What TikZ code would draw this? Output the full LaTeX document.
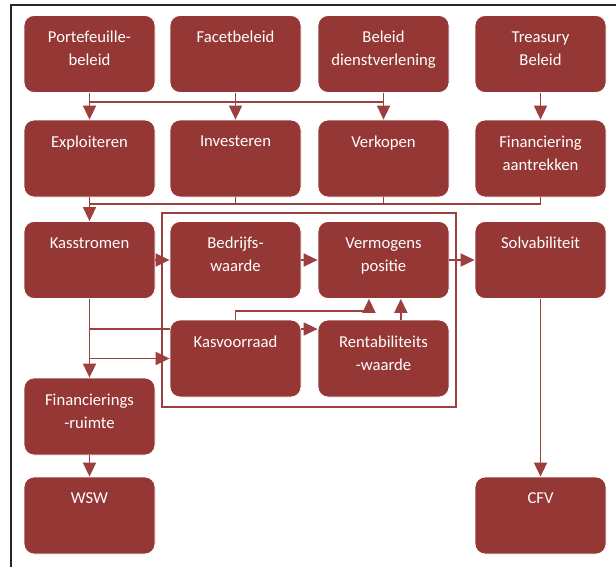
\documentclass[tikz,border=0pt]{standalone}
\usepackage{fontspec}
\setmainfont{Carlito}
\usetikzlibrary{arrows.meta,calc}
\definecolor{boxred}{HTML}{953735}
\definecolor{linered}{HTML}{9B403E}
\begin{document}
\begin{tikzpicture}[x=0.75pt,y=-0.75pt,
 box/.style={draw=white, line width=0.6pt, fill=boxred, rounded corners=7.5pt, minimum width=98.25pt, minimum height=57.75pt, inner sep=0pt},
 lbl/.style={anchor=north, inner sep=0pt, text=white, font=\fontsize{12.5}{17.25}\selectfont, align=center},
 conn/.style={draw=linered, line width=1.3pt},
 arr/.style={conn, -{Triangle[length=10.5pt,width=9.75pt]}},
]
\useasboundingbox (0,0) rectangle (616,567);
\fill[white] (0,0) rectangle (616,567);
\draw[black!85, line width=1.5pt] (11,567) -- (11,5) -- (616,5);
% inner frame
\draw[conn] (162,213) rectangle (456,407);
% boxes
\node[box] (pf) at (89.5,54) {};
\node[box] (fb) at (235.5,54) {};
\node[box] (bd) at (383.5,54) {};
\node[box] (tb) at (540.5,54) {};
\node[box] (ex) at (89.5,158.5) {};
\node[box] (inv) at (235.5,158.5) {};
\node[box] (vk) at (383.5,158.5) {};
\node[box] (fa) at (540.5,158.5) {};
\node[box] (ks) at (89.5,260) {};
\node[box] (bw) at (235.5,260) {};
\node[box] (vp) at (383.5,260) {};
\node[box] (sv) at (540.5,260) {};
\node[box] (kv) at (235.5,358.5) {};
\node[box] (rw) at (383.5,358.5) {};
\node[box] (fr) at (89.5,416.5) {};
\node[box] (wsw) at (89.5,515.5) {};
\node[box] (cfv) at (540.5,515.5) {};
% labels
\node[lbl] at ([yshift=-12pt]pf.north) {Portefeuille-\\beleid};
\node[lbl] at ([yshift=-12pt]fb.north) {Facetbeleid};
\node[lbl] at ([yshift=-12pt]bd.north) {Beleid\\dienstverlening};
\node[lbl] at ([yshift=-12pt]tb.north) {Treasury\\Beleid};
\node[lbl] at ([yshift=-12pt]ex.north) {Exploiteren};
\node[lbl] at ([yshift=-12pt]inv.north) {Investeren};
\node[lbl] at ([yshift=-12pt]vk.north) {Verkopen};
\node[lbl] at ([yshift=-12pt]fa.north) {Financiering\\aantrekken};
\node[lbl] at ([yshift=-12pt]ks.north) {Kasstromen};
\node[lbl] at ([yshift=-12pt]bw.north) {Bedrijfs-\\waarde};
\node[lbl] at ([yshift=-12pt]vp.north) {Vermogens\\positie};
\node[lbl] at ([yshift=-12pt]sv.north) {Solvabiliteit};
\node[lbl] at ([yshift=-12pt]kv.north) {Kasvoorraad};
\node[lbl] at ([yshift=-12pt]rw.north) {Rentabiliteits\\-waarde};
\node[lbl] at ([yshift=-12pt]fr.north) {Financierings\\-ruimte};
\node[lbl] at ([yshift=-12pt]wsw.north) {WSW};
\node[lbl] at ([yshift=-12pt]cfv.north) {CFV};
% connectors
\coordinate (b1) at (0,102);
\coordinate (b2) at (0,204);
\coordinate (b3) at (0,329);
\coordinate (b4) at (0,311);
\draw[conn] (pf.south) -- (pf.south |- b1) -- (bd.south |- b1) -- (bd.south);
\draw[conn] (fb.south) -- (fb.south |- b1);
\draw[arr] (pf.south |- b1) -- (ex.north);
\draw[arr] (fb.south |- b1) -- (inv.north);
\draw[arr] (bd.south |- b1) -- (vk.north);
\draw[arr] (tb.south) -- (fa.north);
\draw[conn] (ex.south) -- (ex.south |- b2) -- (fa.south |- b2) -- (fa.south);
\draw[conn] (inv.south) -- (inv.south |- b2);
\draw[conn] (vk.south) -- (vk.south |- b2);
\draw[arr] (ex.south |- b2) -- (ks.north);
\draw[arr] (ks.east) -- (bw.west);
\draw[arr] (bw.east) -- (vp.west);
\draw[arr] (vp.east) -- (sv.west);
\draw[arr] (kv.east |- b3) -- (rw.west |- b3);
\coordinate (vpL) at ([xshift=-10.9pt]vp.south);
\coordinate (vpR) at ([xshift=13pt]vp.south);
\draw[arr] (kv.north) -- (kv.north |- b4) -- (vpL |- b4) -- (vpL);
\draw[arr] (vpR |- rw.north) -- (vpR);
\draw[arr] (ks.south) -- (fr.north);
\draw[conn] (ks.south |- b3) -- (kv.west |- b3);
\draw[arr] (ks.south |- kv.west) -- (kv.west);
\draw[arr] (fr.south) -- (wsw.north);
\draw[arr] (sv.south) -- (cfv.north);
\end{tikzpicture}
\end{document}
